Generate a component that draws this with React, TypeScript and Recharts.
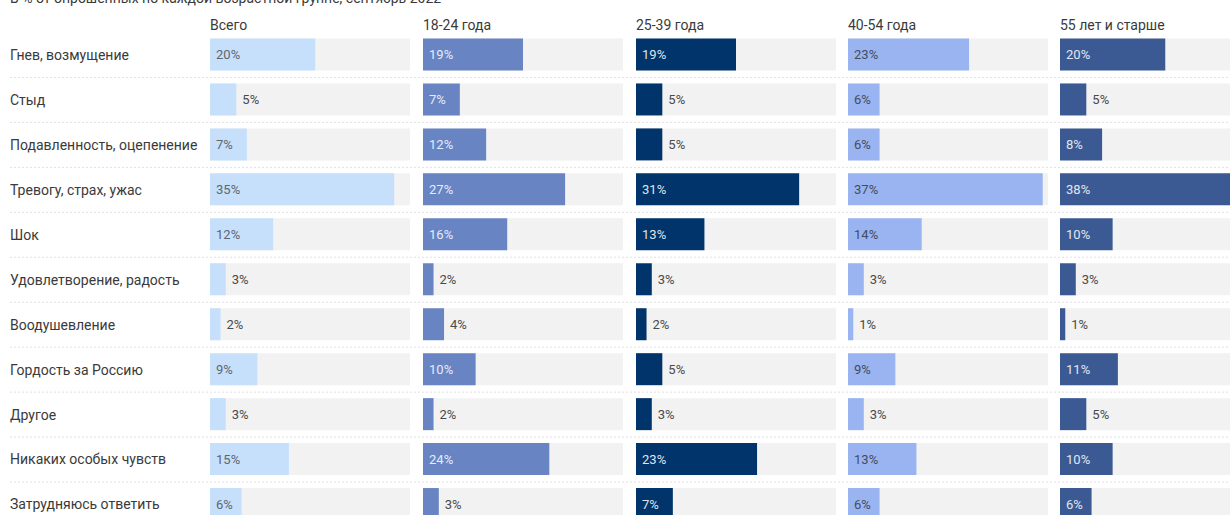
import { BarChart, Bar, XAxis, YAxis, CartesianGrid, LabelList } from 'recharts';

// ── Data ─────────────────────────────────────────────────────────────────────

const categories = [
  'Гнев, возмущение',
  'Стыд',
  'Подавленность, оцепенение',
  'Тревогу, страх, ужас',
  'Шок',
  'Удовлетворение, радость',
  'Воодушевление',
  'Гордость за Россию',
  'Другое',
  'Никаких особых чувств',
  'Затрудняюсь ответить',
];

const panelTitles = ['Всего', '18-24 года', '25-39 года', '40-54 года', '55 лет и старше'];

const totalValues = [20, 5, 7, 35, 12, 3, 2, 9, 3, 15, 6];
const age18to24 = [19, 7, 12, 27, 16, 2, 4, 10, 2, 24, 3];
const age25to39 = [19, 5, 5, 31, 13, 3, 2, 5, 3, 23, 7];
const age40to54 = [23, 6, 6, 37, 14, 3, 1, 9, 3, 13, 6];
const age55plus = [20, 5, 8, 38, 10, 3, 1, 11, 5, 10, 6];

const subtitle = 'В % от опрошенных по каждой возрастной группе, сентябрь 2022';

// ── Layout / style ───────────────────────────────────────────────────────────

const X_MAX = 38;
const INSIDE_MIN = 6;
const CHART_H = 527;
const MARGIN_TOP = 32.5;
const PANEL_W = 200;
const LABEL_COL = 200;
const ROW_LABEL_X = 10;
const PANEL_LEFT = [210, 423, 636, 848, 1060];
const FONT = 'Roboto, "Noto Sans", sans-serif';

const panels = [
  { values: totalValues, fill: '#c6e0fc', text: '#5f6670' },
  { values: age18to24, fill: '#6884c3', text: '#e6ebf7' },
  { values: age25to39, fill: '#00346a', text: '#dfe5ee' },
  { values: age40to54, fill: '#99b4f0', text: '#454c5c' },
  { values: age55plus, fill: '#3b5a94', text: '#e1e6f0' },
];

const toRows = (values: number[]) => categories.map((category, i) => ({ category, value: values[i] }));

// ── Renderers ────────────────────────────────────────────────────────────────

function makeValueLabel(insideColour: string) {
  return (props: any) => {
    const { x, y, width, height, value } = props;
    const inside = Number(value) >= INSIDE_MIN;
    const tx = inside ? Number(x) + 6 : Number(x) + Number(width) + 6;
    return (
      <text
        x={tx}
        y={Number(y) + Number(height) / 2}
        dy="0.35em"
        fontSize={13}
        fontFamily={FONT}
        fill={inside ? insideColour : '#4a4a4a'}
      >
        {value}%
      </text>
    );
  };
}

const renderRowLabel = (props: any) => (
  <text x={ROW_LABEL_X} y={props.y} dy="0.35em" fontSize={14} fontFamily={FONT} fill="#3a3a3a">
    {props.payload.value}
  </text>
);

// ── Component ────────────────────────────────────────────────────────────────

export default function App() {
  const gridRows = toRows(totalValues);
  return (
    <div
      style={{
        position: 'absolute',
        left: 0,
        top: 0,
        width: 1230,
        height: 515,
        overflow: 'hidden',
        background: '#fff',
        fontFamily: FONT,
      }}
    >
      <div
        style={{
          position: 'absolute',
          left: 10,
          top: -10,
          fontSize: 14,
          lineHeight: '16px',
          color: '#3a3a3a',
          whiteSpace: 'nowrap',
        }}
      >
        {subtitle}
      </div>

      {/* row separators */}
      <div style={{ position: 'absolute', left: 0, top: 0 }}>
        <BarChart
          width={1230}
          height={CHART_H}
          data={gridRows}
          layout="vertical"
          margin={{ top: MARGIN_TOP, right: 0, bottom: 0, left: ROW_LABEL_X }}
        >
          <XAxis type="number" domain={[0, X_MAX]} hide />
          <YAxis type="category" dataKey="category" hide />
          <CartesianGrid
            vertical={false}
            stroke="#e0e0e0"
            strokeDasharray="2 2"
            horizontalCoordinatesGenerator={({ offset }: any) =>
              categories
                .slice(1)
                .map((_, i) => offset.top + ((i + 1) * offset.height) / categories.length)
            }
          />
        </BarChart>
      </div>

      {panels.map((p, idx) => {
        const withLabels = idx === 0;
        const left = withLabels ? 0 : PANEL_LEFT[idx];
        const width = withLabels ? PANEL_LEFT[0] + PANEL_W : PANEL_W;
        return (
          <div key={idx}>
            <div
              style={{
                position: 'absolute',
                left: PANEL_LEFT[idx],
                top: 17,
                fontSize: 14,
                lineHeight: '16px',
                color: '#3a3a3a',
                whiteSpace: 'nowrap',
              }}
            >
              {panelTitles[idx]}
            </div>
            <div style={{ position: 'absolute', left, top: 0 }}>
              <BarChart
                width={width}
                height={CHART_H}
                data={toRows(p.values)}
                layout="vertical"
                barCategoryGap={0}
                margin={{ top: MARGIN_TOP, right: 0, bottom: 0, left: withLabels ? ROW_LABEL_X : 0 }}
              >
                <XAxis type="number" domain={[0, X_MAX]} scale="linear" allowDataOverflow hide />
                <YAxis
                  type="category"
                  dataKey="category"
                  hide={!withLabels}
                  width={LABEL_COL}
                  axisLine={false}
                  tickLine={false}
                  tick={renderRowLabel}
                  interval={0}
                />
                <Bar
                  dataKey="value"
                  fill={p.fill}
                  barSize={32}
                  background={{ fill: '#f2f2f2' }}
                  isAnimationActive={false}
                >
                  <LabelList dataKey="value" content={makeValueLabel(p.text)} />
                </Bar>
              </BarChart>
            </div>
          </div>
        );
      })}
    </div>
  );
}
